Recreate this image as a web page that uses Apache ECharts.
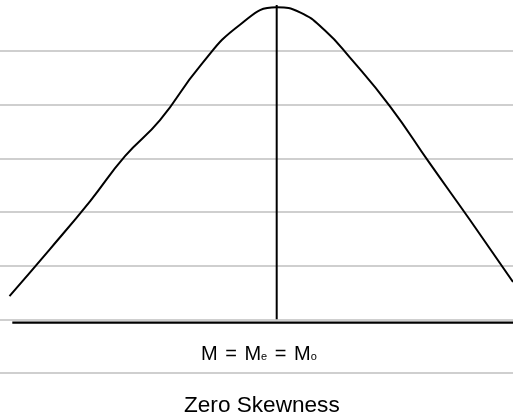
<!DOCTYPE html>
<html>
<head>
<meta charset="utf-8">
<script src="https://cdn.jsdelivr.net/npm/echarts@6/dist/echarts.min.js"></script>
<style>
  html, body { margin: 0; padding: 0; background: #fff; }
  #chart { width: 513px; height: 418px; }
</style>
</head>
<body>
<div id="chart"></div>
<script>
// symmetric curve: x position, height
const curveX = [9.5, 50, 90, 125, 160, 200, 240, 276.7,
    300, 325, 350, 390, 430, 470, 513];
const curveY = [0.434, 1.31, 2.2, 3.04, 3.713, 4.72, 5.49, 5.813,
    5.72, 5.38, 4.876, 3.97, 2.9, 1.85, 0.695];

// mean = median = mode position and peak height
const centreX = 276.7;
const peakY = 5.856;
const baseY = -0.063;
const baseStart = 12.3;

const subLabel = 'M{g| = }M{s|e}{g| = }M{s|o}';
const caption = 'Zero Skewness';

const chart = echarts.init(document.getElementById('chart'));

chart.setOption({
    animation: false,
    backgroundColor: '#fff',
    grid: { left: 0, right: 0, top: 51, bottom: 45 },
    title: [
        {
            text: subLabel,
            left: 201,
            top: 344,
            padding: 0,
            textStyle: {
                fontFamily: 'Liberation Sans',
                fontSize: 20,
                fontWeight: 'normal',
                color: '#000',
                rich: {
                    g: { fontSize: 20, fontFamily: 'Liberation Sans', color: '#000', padding: [0, 2] },
                    s: { fontSize: 11, fontFamily: 'Liberation Sans', color: '#000', verticalAlign: 'bottom', padding: [0, 0, 2, 0] }
                }
            }
        },
        {
            text: caption,
            left: 184,
            top: 394,
            padding: 0,
            textStyle: { fontFamily: 'Liberation Sans', fontSize: 22.6, fontWeight: 'normal', color: '#000' }
        }
    ],
    xAxis: {
        type: 'value',
        min: 0,
        max: 513,
        show: false
    },
    yAxis: {
        type: 'value',
        min: -1,
        max: 5,
        interval: 1,
        axisLine: { show: false },
        axisTick: { show: false },
        axisLabel: { show: false },
        splitLine: { lineStyle: { color: '#bfbfbf', width: 1.5 } }
    },
    series: [
        {
            type: 'line',
            data: curveX.map((x, i) => [x, curveY[i]]),
            smooth: 0.5,
            clip: false,
            symbol: 'none',
            lineStyle: { color: '#000', width: 2 }
        },
        {
            type: 'line',
            data: [[centreX, 0], [centreX, peakY]],
            clip: false,
            symbol: 'none',
            lineStyle: { color: '#000', width: 2 }
        },
        {
            type: 'line',
            data: [[baseStart, baseY], [513, baseY]],
            clip: false,
            symbol: 'none',
            lineStyle: { color: '#000', width: 2.2 }
        }
    ]
});
</script>
</body>
</html>
